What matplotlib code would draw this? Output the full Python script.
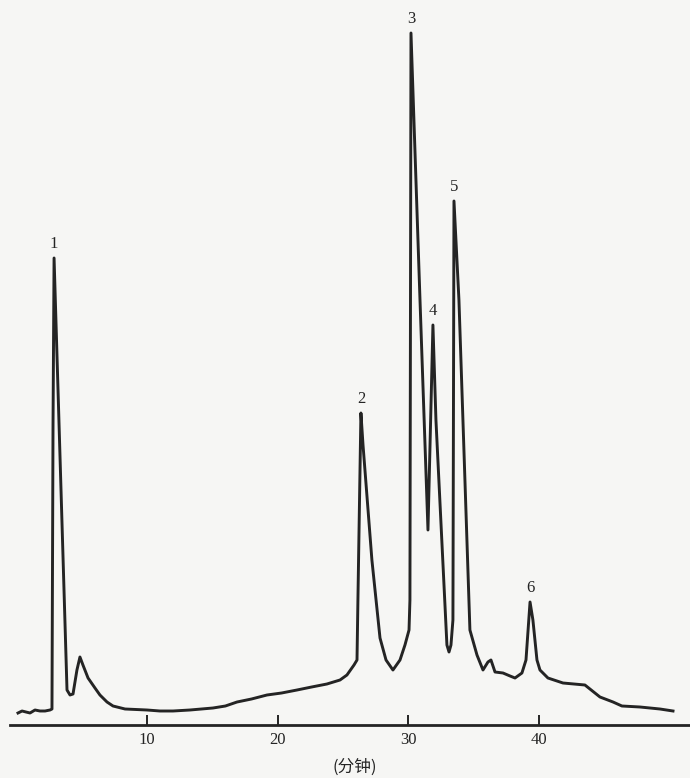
import matplotlib
matplotlib.use("Agg")
import matplotlib.pyplot as plt
import numpy as np

# Retention time (min) and detector signal (arbitrary units)
time_min = [0.13, 0.44, 0.74, 1.05, 1.43, 1.81, 2.20, 2.58, 2.73, 2.81, 2.89,
            3.88, 4.11, 4.34, 4.64, 4.87, 5.10, 5.49, 6.02, 6.40, 6.94, 7.40,
            8.32, 10.00, 10.99, 11.99, 13.29, 15.05, 16.0, 16.89, 18.0, 19.18,
            20.3, 21.48, 22.6, 23.77, 24.77, 25.30, 25.84, 26.07, 26.14, 26.37,
            26.53, 27.21, 27.83, 28.29, 28.82, 29.36, 29.74, 30.05, 30.12, 30.20,
            30.89, 31.50, 31.88, 32.11, 32.95, 33.11, 33.26, 33.41, 33.49, 33.87,
            34.71, 35.25, 35.71, 36.09, 36.32, 36.63, 37.24, 37.78, 38.16, 38.69,
            39.00, 39.31, 39.53, 39.84, 40.07, 40.68, 41.83, 43.51, 44.66, 45.66,
            46.34, 47.72, 49.25, 50.25]
signal = [12, 14, 13, 12, 15, 14, 14, 15, 16, 300, 467,
          35, 30, 31, 55, 68, 60, 47, 37, 30, 23, 19,
          16, 15, 14, 14, 15, 17, 19, 23, 26, 30,
          32, 35, 38, 41, 45, 50, 60, 65, 125, 312,
          280, 165, 87, 65, 55, 65, 80, 95, 125, 692,
          425, 195, 400, 305, 80, 73, 80, 105, 524, 425,
          95, 70, 55, 63, 65, 53, 52, 49, 47, 52,
          65, 123, 105, 65, 55, 47, 42, 40, 28, 23,
          19, 18, 16, 14]

peak_labels = ["1", "2", "3", "4", "5", "6"]
peak_times = [2.89, 26.37, 30.20, 31.88, 33.49, 39.31]

xticks = [10, 20, 30, 40]
xlabel = "(分钟)"

ink = "#242424"
fig = plt.figure(figsize=(6.9, 7.78), dpi=100, facecolor="#f6f6f4")
ax = fig.add_axes([0, 0, 1, 1])
ax.set_facecolor("#f6f6f4")

ax.plot(time_min, signal, color=ink, lw=2.1, solid_joinstyle="round")

t = np.array(time_min)
s = np.array(signal)
for lab, pt in zip(peak_labels, peak_times):
    i = int(np.argmin(np.abs(t - pt)))
    ax.annotate(lab, (t[i], s[i]), xytext=(0, 4), textcoords="offset points",
                ha="center", va="bottom", fontsize=12, color=ink,
                family="Liberation Serif")

ax.set_xlim(-1.247, 51.55)
ax.set_ylim(-53, 725)
for sp in ["top", "right", "left"]:
    ax.spines[sp].set_visible(False)
ax.spines["bottom"].set_position(("data", 0))
ax.spines["bottom"].set_bounds(-0.5, 51.55)
ax.spines["bottom"].set_linewidth(2.0)
ax.spines["bottom"].set_color(ink)
ax.set_yticks([])
ax.set_xticks(xticks)
ax.tick_params(axis="x", direction="in", length=7, width=1.4, color=ink,
               pad=5, labelsize=12, labelcolor=ink)
for lbl in ax.get_xticklabels():
    lbl.set_family("Liberation Serif")

fig.text(355 / 690, 1 - 767 / 778, xlabel, ha="center", va="center",
         fontsize=12, color=ink, family=["Noto Sans CJK SC", "DejaVu Sans"])

fig.savefig("out.png", dpi=100, facecolor=fig.get_facecolor())
